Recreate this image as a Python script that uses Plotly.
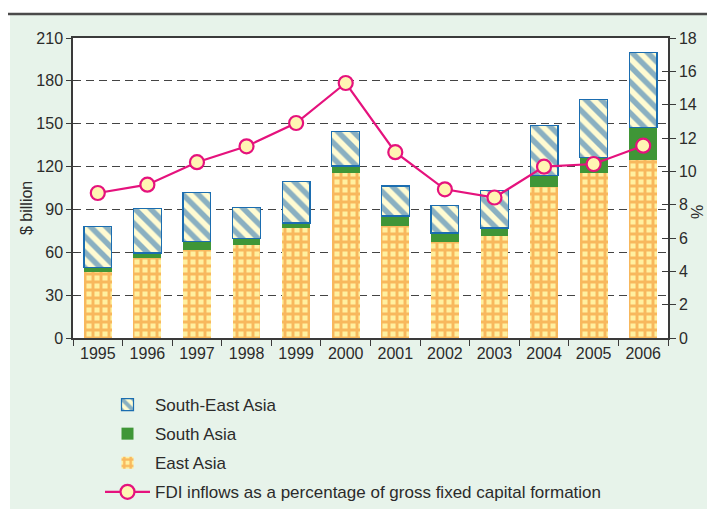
import plotly.graph_objects as go

years = ["1995", "1996", "1997", "1998", "1999", "2000", "2001", "2002", "2003", "2004", "2005", "2006"]
east_asia = [46, 56, 61.6, 65, 77, 115.7, 78.6, 67, 71.6, 105.5, 115.7, 124.6]
south_asia = [3.5, 3.5, 6, 4.6, 3.5, 4.7, 6.8, 6.5, 5.4, 8, 10.5, 23]
south_east_asia = [28.4, 31, 34, 22, 29, 24.3, 21, 19.2, 26.1, 35.5, 41, 52]
fdi_pct = [8.7, 9.2, 10.55, 11.5, 12.9, 15.3, 11.15, 8.92, 8.43, 10.28, 10.44, 11.54]

left_ticks = [0, 30, 60, 90, 120, 150, 180, 210]
right_ticks = [0, 2, 4, 6, 8, 10, 12, 14, 16, 18]

FONT = "Liberation Sans, Arial, sans-serif"
TXT = "#2b2b2b"
AX = "#3a3a3a"

fig = go.Figure()

fig.add_trace(go.Bar(
    x=years, y=east_asia, name="East Asia", width=0.56,
    marker=dict(color="#FFF0A0", line=dict(width=0),
                pattern=dict(shape="+", fgcolor="#F28019", bgcolor="#FFF0A0", size=8, solidity=0.6)),
    legendrank=3, legendgroup="c",
))
fig.add_trace(go.Bar(
    x=years, y=south_asia, name="South Asia", width=0.56,
    marker=dict(color="#3F9637", line=dict(width=0)),
    legendrank=2, legendgroup="b",
))
fig.add_trace(go.Bar(
    x=years, y=south_east_asia, name="South-East Asia", width=0.56,
    marker=dict(color="#FFFBD2", line=dict(width=1.2, color="#1B6DB0"),
                pattern=dict(shape="\\", fgcolor="#1666B0", bgcolor="#FFFBD2", size=11, solidity=0.5)),
    legendrank=1, legendgroup="a",
))
fig.add_trace(go.Scatter(
    x=years, y=fdi_pct, yaxis="y2", mode="lines+markers",
    name="FDI inflows as a percentage of gross fixed capital formation",
    line=dict(color="#E5127D", width=2.2),
    marker=dict(symbol="circle", size=14, color="#FFF5B3", line=dict(color="#E5127D", width=2.2)),
    legendrank=4, legendgroup="d",
))

W, H = 707, 509
L, R, T, B = 73, 39, 38, 171
pw, ph = W - L - R, H - T - B

def px2x(p):
    return (p - L) / pw

def py2y(p):
    return (H - B - p) / ph

shapes = [
    dict(type="rect", xref="paper", yref="paper", x0=px2x(-5), x1=px2x(10), y0=py2y(-5), y1=py2y(515),
         fillcolor="white", line=dict(width=0), layer="above"),
    dict(type="rect", xref="paper", yref="paper", x0=px2x(-5), x1=px2x(715), y0=py2y(-5), y1=py2y(14),
         fillcolor="white", line=dict(width=0), layer="above"),
    dict(type="line", xref="paper", yref="paper", x0=px2x(8), x1=px2x(715), y0=py2y(14), y1=py2y(14),
         line=dict(color="#4a4a4a", width=2.5), layer="above"),
]

annotations = [
    dict(text="$ billion", xref="paper", yref="paper", x=px2x(26), y=py2y(208),
         xanchor="center", yanchor="middle", textangle=-90, showarrow=False,
         font=dict(family=FONT, size=16, color=TXT)),
    dict(text="%", xref="paper", yref="paper", x=px2x(697), y=py2y(212),
         xanchor="center", yanchor="middle", textangle=-90, showarrow=False,
         font=dict(family=FONT, size=16, color=TXT)),
]

axis_font = dict(family=FONT, size=16, color=TXT)
GRID_DASH = "8px,5px"

fig.update_layout(
    width=W, height=H,
    margin=dict(l=L, r=R, t=T, b=B, pad=0, autoexpand=False),
    paper_bgcolor="#E7F3EA",
    plot_bgcolor="white",
    barmode="stack",
    font=dict(family=FONT, size=16, color=TXT),
    shapes=shapes,
    annotations=annotations,
    xaxis=dict(
        type="category", categoryorder="array", categoryarray=years,
        range=[-0.5, 11.5], automargin=False,
        tickson="boundaries", ticks="outside", ticklen=6, tickwidth=1.2, tickcolor=AX,
        showline=True, linecolor=AX, linewidth=1.5, mirror=True,
        showgrid=False, tickfont=axis_font,
    ),
    yaxis=dict(
        range=[0, 210], tickvals=left_ticks, ticktext=[str(v) for v in left_ticks],
        ticks="outside", ticklen=5, tickwidth=1.2, tickcolor=AX, automargin=False,
        showline=True, linecolor=AX, linewidth=1.5,
        showgrid=True, gridcolor="#444444", gridwidth=1.2, griddash=GRID_DASH,
        zeroline=False, tickfont=axis_font,
    ),
    yaxis2=dict(
        range=[0, 18], tickvals=right_ticks, ticktext=[str(v) for v in right_ticks],
        overlaying="y", side="right", anchor="x", automargin=False,
        ticks="outside", ticklen=6, tickwidth=1.2, tickcolor=AX,
        showline=True, linecolor=AX, linewidth=1.5,
        showgrid=False, zeroline=False, tickfont=axis_font,
    ),
    yaxis3=dict(
        range=[0, 210], tickvals=left_ticks, overlaying="y", side="left", anchor="x", automargin=False,
        ticks="inside", ticklen=5, tickwidth=1.2, tickcolor=AX,
        showticklabels=False, showgrid=False, zeroline=False, showline=False,
    ),
    yaxis4=dict(
        range=[0, 18], tickvals=right_ticks, overlaying="y", side="right", anchor="x", automargin=False,
        ticks="inside", ticklen=6, tickwidth=1.2, tickcolor=AX,
        showticklabels=False, showgrid=False, zeroline=False, showline=False,
    ),
    legend=dict(
        orientation="v", traceorder="grouped",
        xref="container", yref="container",
        x=100 / W, xanchor="left", y=1 - 387 / H, yanchor="top",
        bgcolor="rgba(0,0,0,0)", borderwidth=0,
        font=dict(family=FONT, size=17, color=TXT),
        tracegroupgap=4, itemwidth=45,
    ),
    showlegend=True,
)

fig.add_trace(go.Scatter(x=[years[0]], y=[0], yaxis="y3", mode="markers", marker=dict(opacity=0),
                         showlegend=False, hoverinfo="skip"))
fig.add_trace(go.Scatter(x=[years[0]], y=[0], yaxis="y4", mode="markers", marker=dict(opacity=0),
                         showlegend=False, hoverinfo="skip"))

fig.write_html("out.html", config={"displayModeBar": False},
               post_script="document.body.style.margin='0';document.body.style.padding='0';")
